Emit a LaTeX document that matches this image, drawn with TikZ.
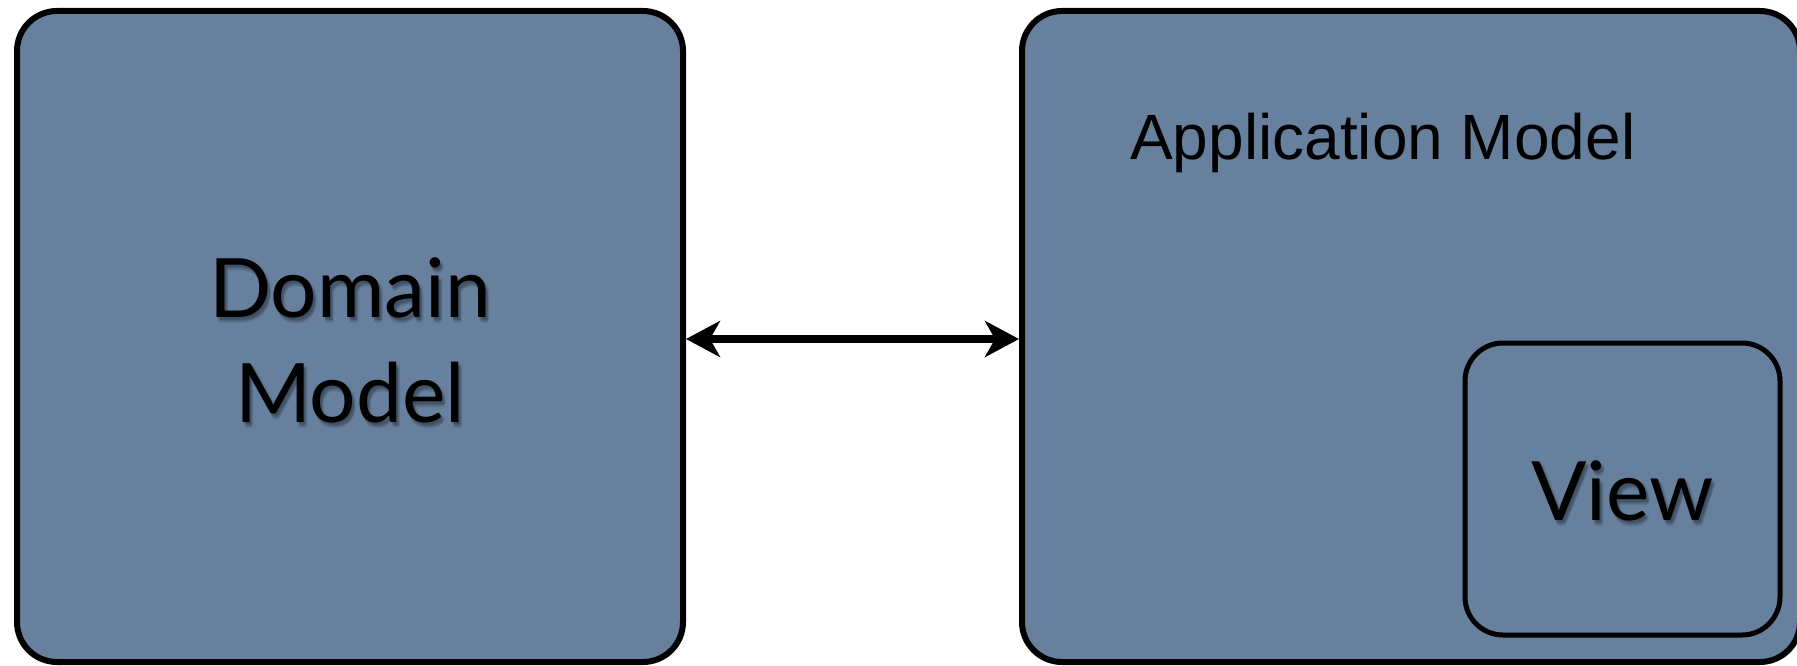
\documentclass[tikz,border=0pt]{standalone}
\usepackage{fontspec}
\setmainfont{Liberation Sans}
\newfontfamily\gill{Lato}
\usetikzlibrary{arrows.meta}
\definecolor{slate}{RGB}{103,128,158}
\tikzset{
  panel/.style={draw=black, line width=6pt, fill=slate, rounded corners=40pt, inner sep=0pt},
  subpanel/.style={draw=black, line width=5pt, fill=slate, rounded corners=38pt, inner sep=0pt},
  bigtext/.style={font=\gill\fontsize{82}{105}\selectfont, inner sep=0pt, align=center},
  shadowtext/.style={bigtext, text=black, opacity=0.07},
  link/.style={line width=8.5pt, {Stealth[length=34pt,width=36pt,inset=10pt]}-{Stealth[length=34pt,width=36pt,inset=10pt]}}
}
\begin{document}
\begin{tikzpicture}[x=1pt,y=-1pt]
\useasboundingbox (0,0) rectangle (1797,666);
\begin{scope}
\clip (0,0) rectangle (1797,666);
\node[panel, minimum width=666pt, minimum height=651pt] (L) at (350,336.5) {};
\node[panel, minimum width=778pt, minimum height=651pt] (R) at (1411,336.5) {};
\node[subpanel, minimum width=315pt, minimum height=292pt] (V) at (1622.5,489) {};
\end{scope}
\foreach \dx/\dy in {1/2,2/3,3/4,2/5,4/3,3/6} {
  \node[shadowtext, anchor=base] at (350+\dx,422+\dy) {Domain\\Model};
  \node[shadowtext, anchor=base] at (1622.5+\dx,520+\dy) {View};
}
\node[bigtext, anchor=base] (dl) at (350,422) {Domain\\Model};
\node[bigtext, anchor=base] (vl) at (1622.5,520) {View};
\node[font=\fontsize{64}{70}\selectfont, inner sep=0pt, anchor=base west] (al) at (1130,160) {Application Model};
\draw[link] ([yshift=-2.5pt]L.east) -- ([yshift=-2.5pt]R.west);
\end{tikzpicture}
\end{document}
